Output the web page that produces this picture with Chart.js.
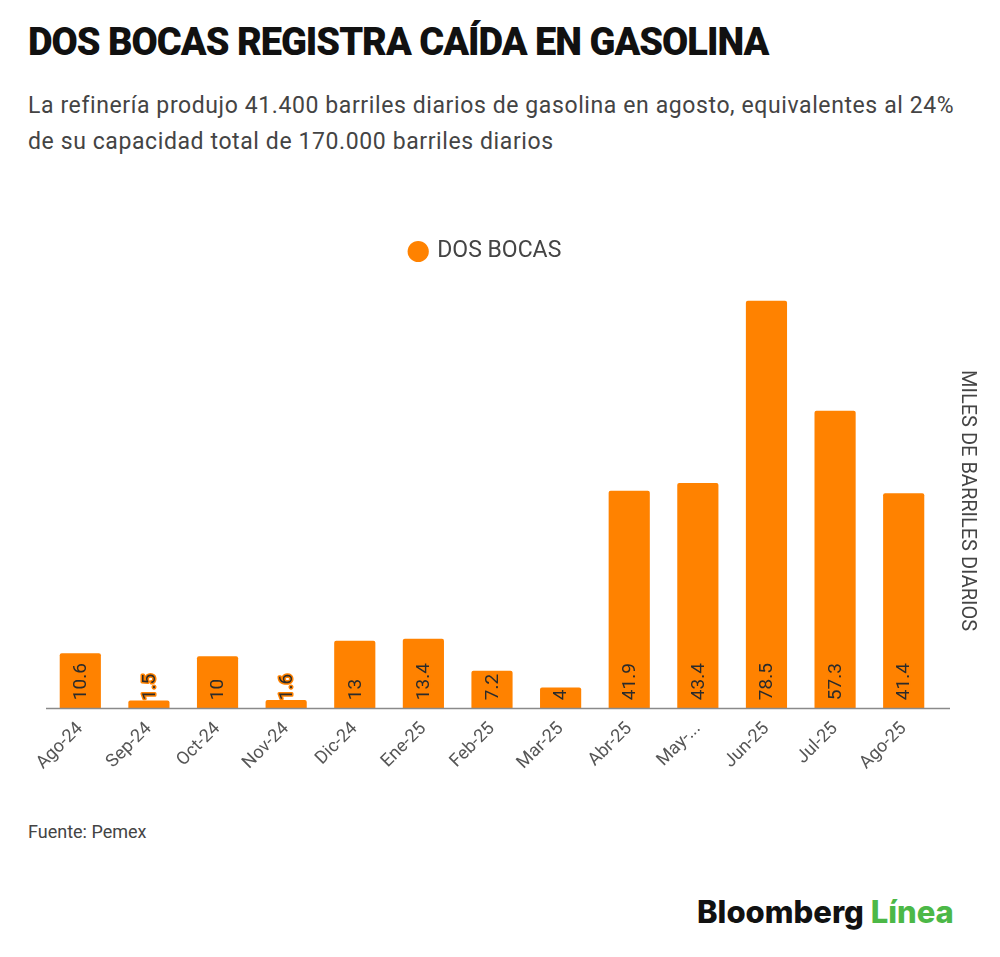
<!DOCTYPE html>
<html>
<head>
<meta charset="utf-8">
<script src="https://cdn.jsdelivr.net/npm/chart.js@4"></script>
<style>
  html, body { margin: 0; padding: 0; background: #fff; }
  body { width: 1000px; height: 957px; position: relative; font-family: Roboto, sans-serif; overflow: hidden; }
  #title { position: absolute; left: 28px; top: 20px; font-size: 38px; font-weight: 900; letter-spacing: -1px; color: #111; white-space: nowrap; }
  #subtitle { position: absolute; left: 28px; top: 88px; font-size: 23px; line-height: 36px; letter-spacing: 0.6px; color: #444; width: 945px; }
  #chartBox { position: absolute; left: 0; top: 202px; width: 1000px; height: 596px; }
  #source { position: absolute; left: 28px; top: 821px; font-size: 18px; color: #444; }
  #logo { position: absolute; left: 697px; top: 893px; font-family: Inter, "Liberation Sans", sans-serif; font-size: 31px; font-weight: 800; letter-spacing: 0; color: #111; white-space: nowrap; }
  #logo span { color: #4cb847; }
</style>
</head>
<body>
<div id="title">DOS BOCAS REGISTRA CAÍDA EN GASOLINA</div>
<div id="subtitle">La refinería produjo 41.400 barriles diarios de gasolina en agosto, equivalentes al 24% de su capacidad total de 170.000 barriles diarios</div>
<div id="chartBox"><canvas id="chart"></canvas></div>
<div id="source">Fuente: Pemex</div>
<div id="logo">Bloomberg <span>Línea</span></div>
<script>
// ---------- Data ----------
const months = ['Ago-24', 'Sep-24', 'Oct-24', 'Nov-24', 'Dic-24', 'Ene-25', 'Feb-25',
  'Mar-25', 'Abr-25', 'May-...', 'Jun-25', 'Jul-25', 'Ago-25'];
const dosBocas = [10.6, 1.5, 10, 1.6, 13, 13.4, 7.2, 4, 41.9, 43.4, 78.5, 57.3, 41.4];
const seriesName = 'DOS BOCAS';
const axisTitle = 'MILES DE BARRILES DIARIOS';

const orange = '#ff8200';

// ---------- Plugins ----------
// push the plot area down below the legend, and nudge the legend left
const legendGap = {
  id: 'legendGap',
  beforeInit(chart) {
    const fit = chart.legend.fit;
    chart.legend.fit = function () {
      fit.call(this);
      this.height += 20;
    };
  },
  afterLayout(chart) {
    chart.legend.left -= 37;
    chart.legend.right -= 37;
  }
};

// vertical value labels sitting on the bar base
const barValues = {
  id: 'barValues',
  afterDatasetsDraw(chart) {
    const ctx = chart.ctx;
    const meta = chart.getDatasetMeta(0);
    ctx.save();
    ctx.font = '19px Roboto, sans-serif';
    ctx.textAlign = 'left';
    ctx.textBaseline = 'middle';
    ctx.lineJoin = 'round';
    meta.data.forEach((bar, i) => {
      const label = String(dosBocas[i]);
      ctx.save();
      ctx.translate(bar.x, bar.base - 8);
      ctx.rotate(-Math.PI / 2);
      ctx.lineWidth = 3;
      ctx.strokeStyle = orange;
      ctx.strokeText(label, 0, 1);
      ctx.fillStyle = '#2b2b2b';
      ctx.fillText(label, 0, 1);
      ctx.restore();
    });
    ctx.restore();
  }
};

// baseline reaching slightly past the plot area, like the original
const baseLine = {
  id: 'baseLine',
  afterDatasetsDraw(chart) {
    const { ctx, chartArea, scales } = chart;
    const y = Math.round(scales.y.getPixelForValue(0)) + 0.5;
    ctx.save();
    ctx.strokeStyle = '#8a8a8a';
    ctx.lineWidth = 1.5;
    ctx.beginPath();
    ctx.moveTo(chartArea.left, y);
    ctx.lineTo(chartArea.right + 12, y);
    ctx.stroke();
    ctx.restore();
  }
};

// ---------- Chart ----------
new Chart(document.getElementById('chart'), {
  type: 'bar',
  data: {
    labels: months,
    datasets: [{
      label: seriesName,
      data: dosBocas,
      backgroundColor: orange,
      borderRadius: 2,
      borderSkipped: 'bottom',
      categoryPercentage: 1,
      barPercentage: 0.6
    }]
  },
  options: {
    responsive: true,
    maintainAspectRatio: false,
    animation: false,
    layout: { padding: { left: 46, right: 0, top: 27, bottom: 14 } },
    plugins: {
      legend: {
        position: 'top',
        labels: {
          usePointStyle: true,
          pointStyle: 'circle',
          boxWidth: 15,
          boxHeight: 15,
          padding: 11,
          color: '#444',
          font: { family: 'Roboto', size: 23 }
        }
      },
      tooltip: { enabled: false }
    },
    scales: {
      x: {
        grid: { display: false, drawTicks: false },
        border: { display: false },
        ticks: {
          color: '#555',
          font: { family: 'Roboto', size: 18 },
          maxRotation: 45,
          minRotation: 45,
          padding: 10,
          autoSkip: false
        }
      },
      y: {
        display: false,
        min: 0,
        max: 80
      },
      yTitle: {
        position: 'right',
        display: true,
        min: 0,
        max: 80,
        grid: { display: false, drawTicks: false },
        border: { display: false },
        ticks: { display: false },
        title: {
          display: true,
          text: axisTitle,
          color: '#444',
          font: { family: 'Roboto', size: 20 },
          padding: { top: 21, bottom: 17 }
        }
      }
    }
  },
  plugins: [legendGap, barValues, baseLine]
});
</script>
</body>
</html>
